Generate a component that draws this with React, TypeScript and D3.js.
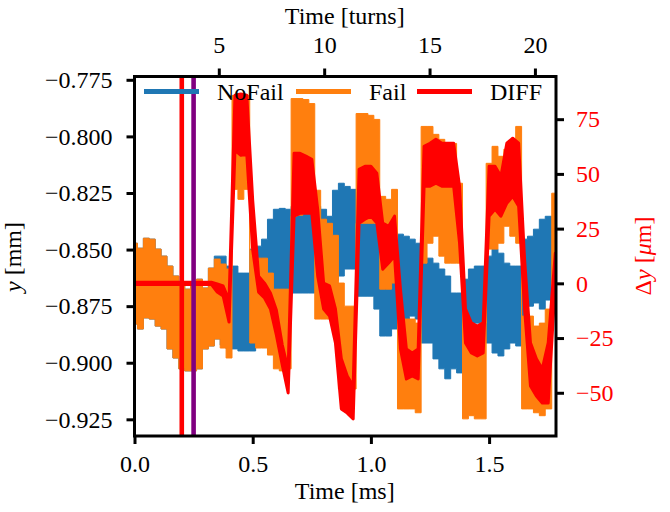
import { useEffect, useRef } from 'react';
import * as d3 from 'd3';

// sample times [ms]
const timeMs = [
  0, 0.025, 0.05, 0.075, 0.1, 0.125, 0.15, 0.175, 0.2, 0.225,
  0.25, 0.275, 0.3, 0.325, 0.35, 0.375, 0.4, 0.425, 0.45, 0.475,
  0.5, 0.525, 0.55, 0.575, 0.6, 0.625, 0.65, 0.675, 0.7, 0.725,
  0.75, 0.775, 0.8, 0.825, 0.85, 0.875, 0.9, 0.925, 0.95, 0.975,
  1.0, 1.025, 1.05, 1.075, 1.1, 1.125, 1.15, 1.175, 1.2, 1.225,
  1.25, 1.275, 1.3, 1.325, 1.35, 1.375, 1.4, 1.425, 1.45, 1.475,
  1.5, 1.525, 1.55, 1.575, 1.6, 1.625, 1.65, 1.675, 1.7, 1.725,
  1.75, 1.78,
];

// NoFail y [mm], upper / lower envelope of the fast oscillation
const noFailHi = [
  -0.8472, -0.8494, -0.845, -0.8454, -0.8498, -0.8529, -0.8573, -0.8617, -0.8661, -0.8675,
  -0.8644, -0.8631, -0.867, -0.8582, -0.8529, -0.8529, -0.8573, -0.8573, -0.8604, -0.8604,
  -0.8498, -0.8485, -0.8454, -0.8366, -0.8322, -0.8318, -0.8322, -0.8309, -0.8318, -0.8322,
  -0.8322, -0.8309, -0.8322, -0.8353, -0.8238, -0.8207, -0.8221, -0.8234, -0.8353, -0.8353,
  -0.8366, -0.8384, -0.841, -0.8441, -0.8441, -0.8432, -0.8441, -0.8454, -0.8472, -0.8538,
  -0.8538, -0.856, -0.8586, -0.8617, -0.8692, -0.8692, -0.8631, -0.8586, -0.8573, -0.8573,
  -0.8529, -0.8498, -0.8516, -0.856, -0.8573, -0.8573, -0.8454, -0.8441, -0.841, -0.8366,
  -0.8353, -0.8353,
];
const noFailLo = [
  -0.8829, -0.8851, -0.8802, -0.8807, -0.8838, -0.8851, -0.8939, -0.8979, -0.9027, -0.9036,
  -0.9036, -0.9027, -0.8939, -0.8926, -0.8895, -0.8922, -0.8939, -0.8939, -0.8948, -0.8948,
  -0.8948, -0.8855, -0.8723, -0.8688, -0.8675, -0.8675, -0.8675, -0.8692, -0.8692, -0.8692,
  -0.8692, -0.8692, -0.8692, -0.8692, -0.8635, -0.8617, -0.8586, -0.8586, -0.8706, -0.8706,
  -0.8706, -0.8763, -0.8882, -0.8882, -0.8851, -0.8807, -0.8807, -0.8794, -0.8807, -0.8913,
  -0.8913, -0.8983, -0.9027, -0.9071, -0.9027, -0.9045, -0.8838, -0.8838, -0.8825, -0.89,
  -0.8913, -0.8957, -0.897, -0.8939, -0.8913, -0.8926, -0.8794, -0.875, -0.8736, -0.8763,
  -0.8723, -0.8692,
];

// Fail y [mm]
const failHi = [
  -0.8472, -0.8494, -0.845, -0.8454, -0.8498, -0.8529, -0.8573, -0.8617, -0.8661, -0.8675,
  -0.8644, -0.8631, -0.867, -0.8582, -0.8542, -0.8564, -0.8586, -0.7819, -0.7828, -0.7819,
  -0.8503, -0.8538, -0.8538, -0.8604, -0.8675, -0.8675, -0.8675, -0.7833, -0.7833, -0.7837,
  -0.7855, -0.8238, -0.8366, -0.8384, -0.8437, -0.8648, -0.875, -0.875, -0.7899, -0.7899,
  -0.7907, -0.7925, -0.8265, -0.8278, -0.8234, -0.8763, -0.8807, -0.8807, -0.8825, -0.7956,
  -0.7956, -0.7991, -0.8013, -0.8031, -0.8031, -0.8207, -0.8825, -0.8838, -0.8838, -0.8825,
  -0.8119, -0.8044, -0.8088, -0.8057, -0.8031, -0.7956, -0.8794, -0.8794, -0.8838, -0.8825,
  -0.8763, -0.8251,
];
const failLo = [
  -0.8829, -0.8851, -0.8802, -0.8807, -0.8838, -0.8851, -0.8939, -0.8979, -0.9027, -0.9036,
  -0.9036, -0.9027, -0.8939, -0.8926, -0.8895, -0.8935, -0.8979, -0.8234, -0.8278, -0.8234,
  -0.8913, -0.8935, -0.8935, -0.8966, -0.9027, -0.9036, -0.9027, -0.8353, -0.8348, -0.8322,
  -0.8322, -0.8807, -0.8807, -0.8807, -0.8833, -0.9116, -0.9116, -0.9116, -0.8384, -0.8384,
  -0.8384, -0.8384, -0.8675, -0.8675, -0.8648, -0.9204, -0.9204, -0.9204, -0.9221, -0.856,
  -0.8472, -0.8441, -0.8529, -0.856, -0.856, -0.856, -0.9248, -0.9234, -0.9248, -0.9248,
  -0.8498, -0.8498, -0.8472, -0.8397, -0.8441, -0.8472, -0.9204, -0.9204, -0.9221, -0.9234,
  -0.9204, -0.8648,
];

// DIFF Δy [µm] (right axis)
const diffHi = [
  0.5, 0.5, 0.5, 0.5, 0.5, 0.5, 0.5, 0.5, 0.5, 0.5,
  0.5, 0.5, 0.5, 0.5, -0.3, -1.2, -7.6, 85.9, 86.5, 86.0,
  37.9, 3.3, 0.1, -4.4, -12.2, -28.1, -39.4, 59.4, 59.4, 58.1,
  56.7, 33.8, 0.1, -1.2, -11.7, -34.5, -42.3, -46.9, 52.1, 53.5,
  53.5, 50.3, 27.5, 26.1, 30.7, -2.6, -30.0, -31.8, -30.0, 62.6,
  64.0, 65.8, 64.0, 64.0, 64.0, 44.4, -11.7, -18.1, -19.5, -18.1,
  53.5, 53.5, 48.9, 64.0, 66.3, 64.0, 11.1, -27.2, -34.5, -39.1,
  -27.2, 13.8,
];
const diffLo = [
  -0.5, -0.5, -0.5, -0.5, -0.5, -0.5, -0.5, -0.5, -0.5, -0.5,
  -0.5, -0.5, -0.5, -0.5, -4.0, -5.8, -17.7, 60.8, 58.5, 59.0,
  15.2, -4.0, -6.7, -11.7, -23.6, -37.3, -50.1, 30.7, 32.0, 32.0,
  32.0, 3.3, -11.7, -14.9, -27.2, -57.4, -59.3, -62.0, 27.5, 29.3,
  30.7, 27.5, 6.5, 9.3, 12.5, -30.0, -43.7, -42.3, -43.7, 44.4,
  44.4, 45.8, 44.4, 44.4, 44.4, 18.4, -27.2, -31.8, -33.2, -31.8,
  30.7, 33.8, 30.7, 36.6, 39.8, 35.2, -11.7, -46.9, -51.5, -54.7,
  -54.7, 0.1,
];

const markerTimes = [0.2, 0.25];
const markerColors = ['red', 'purple'];

const msTicks = [0, 0.5, 1.0, 1.5];
const turnTicks = [5, 10, 15, 20];
const yTicks = [-0.775, -0.8, -0.825, -0.85, -0.875, -0.9, -0.925];
const dyTicks = [75, 50, 25, 0, -25, -50];

const legendLabels = ['NoFail', 'Fail', 'DIFF'];
const legendColors = ['#1f77b4', '#ff7f0e', 'red'];

const W = 670;
const H = 512;
const M = { left: 134.5, right: 556, top: 76.5, bottom: 436 };
// "Times New Roman" resolves to Liberation Serif here
const FONT = 'Times New Roman';

const App = () => {
  const svgRef = useRef<SVGSVGElement | null>(null);

  useEffect(() => {
    const svg = d3.select(svgRef.current);
    svg.selectAll('*').remove();

    const x = d3.scaleLinear().domain([0, 1.783]).range([M.left, M.right]);
    const xTurns = d3.scaleLinear().domain([1, 21]).range([M.left, M.right]);
    const y = d3.scaleLinear().domain([-0.93237, -0.77354]).range([M.bottom, M.top]);
    const yR = d3.scaleLinear().domain([-69.75, 94.5]).range([M.bottom, M.top]);

    svg.append('defs').append('clipPath').attr('id', 'plot-clip')
      .append('rect')
      .attr('x', M.left).attr('y', M.top)
      .attr('width', M.right - M.left).attr('height', M.bottom - M.top);

    const plot = svg.append('g').attr('clip-path', 'url(#plot-clip)');

    // oscillation bands drawn as filled envelopes
    const band = (
      hi: number[],
      lo: number[],
      scale: d3.ScaleLinear<number, number>,
      curve: d3.CurveFactory,
    ) =>
      d3.area<number>()
        .curve(curve)
        .x(d => x(d))
        .y0((_, i) => scale(lo[i]))
        .y1((_, i) => scale(hi[i]));

    const series = [
      { hi: noFailHi, lo: noFailLo, scale: y, color: legendColors[0], sw: 1, curve: d3.curveStep },
      { hi: failHi, lo: failLo, scale: y, color: legendColors[1], sw: 1, curve: d3.curveStep },
      { hi: diffHi, lo: diffLo, scale: yR, color: legendColors[2], sw: 3, curve: d3.curveLinear },
    ];
    series.forEach(s => {
      plot.append('path')
        .datum(timeMs)
        .attr('d', band(s.hi, s.lo, s.scale, s.curve))
        .attr('fill', s.color)
        .attr('stroke', s.color)
        .attr('stroke-width', s.sw)
        .attr('stroke-linejoin', 'round');
    });

    // vertical markers
    markerTimes.forEach((t, i) => {
      plot.append('line')
        .attr('x1', x(t)).attr('x2', x(t))
        .attr('y1', M.top).attr('y2', M.bottom)
        .attr('stroke', markerColors[i])
        .attr('stroke-width', 4.6);
    });

    // legend (no frame)
    const legendX = [144, 296, 417];
    legendLabels.forEach((label, i) => {
      svg.append('line')
        .attr('x1', legendX[i]).attr('x2', legendX[i] + 55)
        .attr('y1', 91.5).attr('y2', 91.5)
        .attr('stroke', legendColors[i])
        .attr('stroke-width', 5);
      svg.append('text')
        .attr('x', legendX[i] + 73).attr('y', 100)
        .style('font-family', FONT).style('font-size', '24px')
        .text(label);
    });

    // axes
    const styleAxis = (g: d3.Selection<SVGGElement, unknown, null, undefined>) => {
      g.attr('font-family', null).attr('font-size', null);
      g.select('.domain').remove();
      g.selectAll('.tick line').attr('stroke', 'black').attr('stroke-width', 3);
      g.selectAll('.tick text')
        .attr('fill', 'black')
        .style('font-family', FONT)
        .style('font-size', '24px');
    };

    svg.append('g')
      .attr('transform', `translate(${M.left},0)`)
      .call(d3.axisLeft(y).tickValues(yTicks).tickSize(8).tickPadding(14).tickFormat(d3.format('.3f')))
      .call(styleAxis);

    const right = svg.append('g')
      .attr('transform', `translate(${M.right},0)`)
      .call(d3.axisRight(yR).tickValues(dyTicks).tickSize(8).tickPadding(12).tickFormat(d3.format('d')))
      .call(styleAxis);
    right.selectAll('.tick text').attr('fill', 'red');

    svg.append('g')
      .attr('transform', `translate(0,${M.bottom})`)
      .call(d3.axisBottom(x).tickValues(msTicks).tickSize(8).tickPadding(11).tickFormat(d3.format('.1f')))
      .call(styleAxis);

    svg.append('g')
      .attr('transform', `translate(0,${M.top})`)
      .call(d3.axisTop(xTurns).tickValues(turnTicks).tickSize(8).tickPadding(16).tickFormat(d3.format('d')))
      .call(styleAxis);

    // frame
    svg.append('rect')
      .attr('x', M.left).attr('y', M.top)
      .attr('width', M.right - M.left).attr('height', M.bottom - M.top)
      .attr('fill', 'none').attr('stroke', 'black').attr('stroke-width', 3);

    // axis titles
    const cx = (M.left + M.right) / 2 - 0.5;
    const title = (ty: number, s: string) =>
      svg.append('text')
        .attr('x', cx).attr('y', ty).attr('text-anchor', 'middle')
        .style('font-family', FONT).style('font-size', '24px')
        .text(s);
    title(24, 'Time [turns]');
    title(499, 'Time [ms]');

    const yLabel = svg.append('text')
      .attr('transform', 'translate(21,257) rotate(-90)')
      .attr('text-anchor', 'middle')
      .style('font-family', FONT).style('font-size', '24px');
    yLabel.append('tspan').attr('font-style', 'italic').text('y');
    yLabel.append('tspan').text(' [mm]');

    const dyLabel = svg.append('text')
      .attr('transform', 'translate(651,256) rotate(-90)')
      .attr('text-anchor', 'middle')
      .style('font-family', FONT).style('font-size', '24px')
      .attr('fill', 'red');
    dyLabel.append('tspan').text('Δ');
    dyLabel.append('tspan').attr('font-style', 'italic').text('y');
    dyLabel.append('tspan').text(' [');
    dyLabel.append('tspan').attr('font-style', 'italic').text('μ');
    dyLabel.append('tspan').text('m]');
  }, []);

  return (
    <svg
      ref={svgRef}
      width={W}
      height={H}
      style={{ position: 'absolute', left: 0, top: 0, background: 'white', fontFamily: FONT }}
    />
  );
};

export default App;
